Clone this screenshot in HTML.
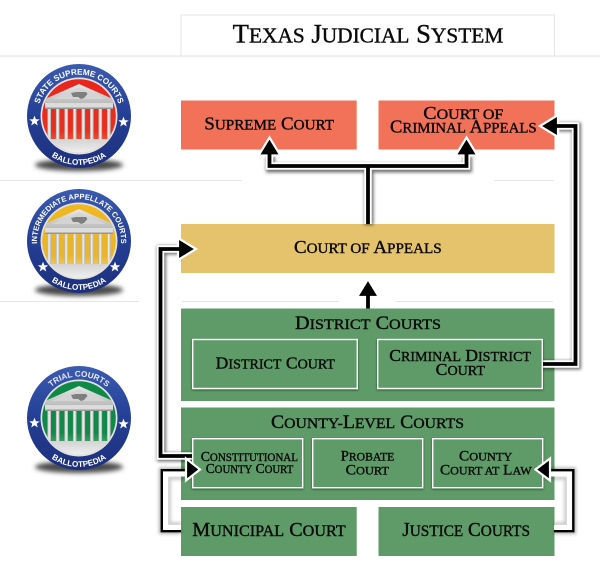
<!DOCTYPE html>
<html><head><meta charset="utf-8"><title>Texas Judicial System</title>
<style>
html,body{margin:0;padding:0;background:#fff}
svg{display:block}
.t{font-family:"Liberation Serif",serif;fill:#0a0a0a;stroke:#0a0a0a;stroke-width:.38;text-transform:uppercase}
.s{font-size:.8em}
.b{font-family:"Liberation Sans",sans-serif;font-weight:bold;fill:#fff;font-size:8.2px}
.w{fill:none;stroke:#fff;stroke-width:7.5;stroke-linejoin:miter}
.k{fill:none;stroke:#000;stroke-width:3.8;stroke-linejoin:miter}
.sh{fill:none;stroke:#000;stroke-opacity:.55;stroke-width:9}
.hw{fill:#000;stroke:#fff;stroke-width:2.2;stroke-linejoin:miter}
.thin{fill:none;stroke:#000;stroke-width:2.4;stroke-linejoin:miter}
.thw{fill:none;stroke:#fff;stroke-width:5.5}
.ths{fill:none;stroke:#000;stroke-opacity:.2;stroke-width:4}
.tho{fill:none;stroke:#000;stroke-opacity:.3;stroke-width:5}
</style></head><body>
<svg width="600" height="573" viewBox="0 0 600 573" xmlns="http://www.w3.org/2000/svg">
<defs>
<filter id="bl" x="-30%" y="-30%" width="160%" height="160%"><feGaussianBlur stdDeviation="1.6"/></filter>
<filter id="bs" x="-30%" y="-100%" width="160%" height="300%"><feGaussianBlur stdDeviation="2.4"/></filter>
<filter id="ib" x="-10%" y="-10%" width="120%" height="125%"><feDropShadow dx="0" dy="1" stdDeviation="1" flood-color="#0c2c14" flood-opacity=".65"/></filter>
<linearGradient id="ring" x1="0" y1="0" x2="0" y2="1"><stop offset="0" stop-color="#3b5bb0"/><stop offset=".5" stop-color="#243f95"/><stop offset="1" stop-color="#1d2f7c"/></linearGradient>
<linearGradient id="red" x1="0" y1="0" x2="0" y2="1"><stop offset="0" stop-color="#e9251d"/><stop offset=".7" stop-color="#e8301f"/><stop offset="1" stop-color="#f47a50"/></linearGradient>
<linearGradient id="gold" x1="0" y1="0" x2="0" y2="1"><stop offset="0" stop-color="#f0b71e"/><stop offset=".7" stop-color="#e9b52a"/><stop offset="1" stop-color="#f3dc98"/></linearGradient>
<linearGradient id="green" x1="0" y1="0" x2="0" y2="1"><stop offset="0" stop-color="#0d8a45"/><stop offset=".7" stop-color="#12894a"/><stop offset="1" stop-color="#75bd8c"/></linearGradient>
<linearGradient id="col" x1="0" y1="0" x2="1" y2="0"><stop offset="0" stop-color="#a8a8a8"/><stop offset=".45" stop-color="#f4f4f4"/><stop offset="1" stop-color="#b0b0b0"/></linearGradient>
<linearGradient id="roof" x1="0" y1="0" x2="0" y2="1"><stop offset="0" stop-color="#e8e8e8"/><stop offset="1" stop-color="#bcbcbc"/></linearGradient>
<linearGradient id="step" x1="0" y1="0" x2="0" y2="1"><stop offset="0" stop-color="#d3d3d3"/><stop offset="1" stop-color="#f2f2f2"/></linearGradient>
<path id="a1" d="M-40.9,7.2 A41.5,41.5 0 1 1 40.9,7.2"/>
<path id="a2" d="M-34.6,23.8 A42,42 0 1 1 34.6,23.8"/>
<path id="a3" d="M-41.5,0 A41.5,41.5 0 0 1 41.5,0"/>
<path id="bot" d="M-40.6,27.4 A49,49 0 0 0 40.6,27.4"/>
<path id="star" d="M0,-5.4 L1.4,-1.7 5.2,-1.6 2.2,.8 3.3,4.5 0,2.3 -3.3,4.5 -2.2,.8 -5.2,-1.6 -1.4,-1.7Z" fill="#fff"/>
<g id="temple">
<path d="M0,-32 L34,-17 34,-13 -34,-13 -34,-17Z" fill="url(#roof)"/>
<path d="M0,-28.5 L27,-17 -27,-17Z" fill="#d4d4d4"/>
<path d="M-8,-23 L-3,-24 7,-24 8.5,-22 5,-18 2,-17 -1,-19 -6,-19Z" fill="#7f7f7f"/>
<rect x="-34" y="-13" width="68" height="5" fill="#dcdcdc"/>
<rect x="-34" y="-8.5" width="68" height="1.5" fill="#979797"/>
<g fill="url(#col)">
<rect x="-31.6" y="-7" width="3.6" height="30"/><rect x="-23.1" y="-7" width="3.6" height="30"/><rect x="-14.6" y="-7" width="3.6" height="30"/><rect x="-6.1" y="-7" width="3.6" height="30"/><rect x="2.5" y="-7" width="3.6" height="30"/><rect x="11" y="-7" width="3.6" height="30"/><rect x="19.5" y="-7" width="3.6" height="30"/><rect x="28" y="-7" width="3.6" height="30"/>
</g>
</g>
<clipPath id="cc"><circle r="36.8"/></clipPath>
</defs>

<!-- lines -->
<g fill="#e6e6e6">
<rect x="0" y="55.5" width="600" height="1.2"/>
<rect x="0" y="180" width="242" height="1"/>
<rect x="494" y="180" width="60" height="1"/>
<rect x="0" y="301" width="139" height="1"/>
<rect x="182" y="301" width="157" height="1"/>
<rect x="396" y="301" width="157" height="1"/>
</g>
<path d="M181,56 V15 H554.5 V56" fill="none" stroke="#e4e4e4" stroke-width="1"/>

<!-- badges -->
<g transform="translate(79,116)">
<ellipse cx="0" cy="49" rx="44" ry="6" fill="#4a4a4a" filter="url(#bs)"/>
<circle r="52" fill="url(#ring)"/>
<circle r="38.5" fill="#e2e2e2"/><circle r="36.8" fill="url(#red)"/>
<g clip-path="url(#cc)"><use href="#temple"/><rect x="-37" y="23" width="74" height="15" fill="url(#step)"/></g>
<text class="b"><textPath href="#a1" startOffset="50%" text-anchor="middle">STATE SUPREME COURTS</textPath></text>
<text class="b"><textPath href="#bot" startOffset="50%" text-anchor="middle">BALLOTPEDIA</textPath></text>
<use href="#star" x="-44.5" y="5"/><use href="#star" x="44.5" y="6"/>
</g>
<g transform="translate(79,241)">
<ellipse cx="0" cy="49" rx="44" ry="6" fill="#4a4a4a" filter="url(#bs)"/>
<circle r="52" fill="url(#ring)"/>
<circle r="38.5" fill="#e2e2e2"/><circle r="36.8" fill="url(#gold)"/>
<g clip-path="url(#cc)"><use href="#temple"/><rect x="-37" y="23" width="74" height="15" fill="url(#step)"/></g>
<text class="b" style="font-size:7.6px"><textPath href="#a2" startOffset="50%" text-anchor="middle">INTERMEDIATE APPELLATE COURTS</textPath></text>
<text class="b"><textPath href="#bot" startOffset="50%" text-anchor="middle">BALLOTPEDIA</textPath></text>
<use href="#star" x="-36" y="26"/><use href="#star" x="36" y="26"/>
</g>
<g transform="translate(79,418)">
<ellipse cx="0" cy="49" rx="44" ry="6" fill="#4a4a4a" filter="url(#bs)"/>
<circle r="52" fill="url(#ring)"/>
<circle r="38.5" fill="#e2e2e2"/><circle r="36.8" fill="url(#green)"/>
<g clip-path="url(#cc)"><use href="#temple"/><rect x="-37" y="23" width="74" height="15" fill="url(#step)"/></g>
<text class="b" style="fill:#e8ecf6"><textPath href="#a3" startOffset="50%" text-anchor="middle">TRIAL COURTS</textPath></text>
<text class="b"><textPath href="#bot" startOffset="50%" text-anchor="middle">BALLOTPEDIA</textPath></text>
<use href="#star" x="-44.5" y="5"/><use href="#star" x="44.5" y="6"/>
</g>

<!-- boxes -->
<rect x="181" y="100.5" width="175.7" height="49" fill="#f27259"/>
<rect x="378.5" y="100.5" width="176" height="49" fill="#f27259"/>
<rect x="181" y="224" width="373.5" height="49" fill="#e5c36c"/>
<rect x="181" y="308.5" width="373.5" height="92.5" fill="#5f9b68"/>
<rect x="181" y="407.5" width="373.5" height="92.5" fill="#5f9b68"/>
<rect x="181" y="507" width="175.7" height="49" fill="#5f9b68"/>
<rect x="378.5" y="507" width="176" height="49" fill="#5f9b68"/>

<!-- thick arrows -->
<g>
<path class="sh" filter="url(#bl)" d="M269.5,155 V167 H466.5 V155 M368,167 V224" transform="translate(1,1)"/>
<path class="w" d="M269.5,155 V166 H466.5 V155 M368,166 V224"/>
<path class="hw" d="M269.5,137.5 L280.5,155.5 258.5,155.5Z"/>
<path class="hw" d="M466.5,137.5 L477.5,155.5 455.5,155.5Z"/>
<path class="k" d="M269.5,150 V166 H466.5 V150 M368,166 V224"/>

<path class="sh" filter="url(#bl)" d="M368,296 V308" transform="translate(1,0)"/>
<path class="w" d="M368,296 V308"/>
<path class="hw" d="M368,279 L379,297 357,297Z"/>
<path class="k" d="M368,292 V308.5"/>

<path class="sh" filter="url(#bl)" d="M540,364 H575.5 V126 H557" transform="translate(1,1)"/>
<path class="w" d="M540,364 H575.5 V126 H557"/>
<path class="hw" d="M540,126 L558,115 558,137Z"/>
<path class="k" d="M540,364 H575.5 V126 H552"/>

<path class="sh" filter="url(#bl)" d="M195,456 H160.5 V249 H180" transform="translate(1,1)"/>
<path class="w" d="M195,456 H160.5 V249 H180"/>
<path class="hw" d="M196,249 L178,238 178,260Z"/>
<path class="k" d="M195,456 H160.5 V249 H184"/>
</g>

<!-- inner boxes -->
<g fill="#5f9b68" stroke="#fff" stroke-width="1.4" filter="url(#ib)">
<rect x="192.7" y="339.5" width="164.6" height="49"/>
<rect x="377.7" y="339.5" width="164.6" height="49"/>
<rect x="192.7" y="438.7" width="110" height="49"/>
<rect x="312.7" y="438.7" width="110" height="49"/>
<rect x="432.7" y="438.7" width="110" height="49"/>
</g>

<!-- thin arrows -->
<g>
<path class="tho" filter="url(#bl)" d="M181,531.5 H161.5 V470 H190"/>
<path class="ths" filter="url(#bl)" d="M181,524 H169 V478 H190"/>
<path class="thw" d="M181,527.8 H165.3 V473.8 H190"/>
<path class="thin" d="M181,531.2 H161.8 V470.2 H192"/>
<path class="hw" d="M200,469.5 L186,458.5 186,480.5Z"/>
<path class="tho" filter="url(#bl)" d="M554,531.5 H573.5 V470 H545"/>
<path class="ths" filter="url(#bl)" d="M554,524 H566 V478 H545"/>
<path class="thw" d="M554,527.8 H569.7 V473.8 H545"/>
<path class="thin" d="M554,531.2 H573.3 V470.2 H544"/>
<path class="hw" d="M535.5,469.5 L550,458.5 550,480.5Z"/>
</g>

<!-- text -->
<text class="t" x="232.7" y="42.7" font-size="26" textLength="270.6" lengthAdjust="spacingAndGlyphs">T<tspan class="s">exas</tspan> J<tspan class="s">udicial</tspan> S<tspan class="s">ystem</tspan></text>
<text class="t" x="204.3" y="129.3" font-size="18" textLength="129.7" lengthAdjust="spacingAndGlyphs">S<tspan class="s">upreme</tspan> C<tspan class="s">ourt</tspan></text>
<text class="t" x="423.3" y="119" font-size="18" textLength="80" lengthAdjust="spacingAndGlyphs">C<tspan class="s">ourt of</tspan></text>
<text class="t" x="390" y="132.7" font-size="18" textLength="146.7" lengthAdjust="spacingAndGlyphs">C<tspan class="s">riminal</tspan> A<tspan class="s">ppeals</tspan></text>
<text class="t" x="294" y="253" font-size="18" textLength="147.7" lengthAdjust="spacingAndGlyphs">C<tspan class="s">ourt of</tspan> A<tspan class="s">ppeals</tspan></text>
<text class="t" x="295" y="329" font-size="19" textLength="146" lengthAdjust="spacingAndGlyphs">D<tspan class="s">istrict</tspan> C<tspan class="s">ourts</tspan></text>
<text class="t" x="215.7" y="368.3" font-size="17" textLength="119.3" lengthAdjust="spacingAndGlyphs">D<tspan class="s">istrict</tspan> C<tspan class="s">ourt</tspan></text>
<text class="t" x="389.3" y="361" font-size="17" textLength="141.7" lengthAdjust="spacingAndGlyphs">C<tspan class="s">riminal</tspan> D<tspan class="s">istrict</tspan></text>
<text class="t" x="435.7" y="375" font-size="17" textLength="49.3" lengthAdjust="spacingAndGlyphs">C<tspan class="s">ourt</tspan></text>
<text class="t" x="271" y="428" font-size="19" textLength="193" lengthAdjust="spacingAndGlyphs">C<tspan class="s">ounty-</tspan>L<tspan class="s">evel</tspan> C<tspan class="s">ourts</tspan></text>
<text class="t" x="200.7" y="461" font-size="14" textLength="97.3" lengthAdjust="spacingAndGlyphs">C<tspan class="s">onstitutional</tspan></text>
<text class="t" x="205.7" y="473" font-size="14" textLength="87.6" lengthAdjust="spacingAndGlyphs">C<tspan class="s">ounty</tspan> C<tspan class="s">ourt</tspan></text>
<text class="t" x="340.7" y="460.3" font-size="15" textLength="53.6" lengthAdjust="spacingAndGlyphs">P<tspan class="s">robate</tspan></text>
<text class="t" x="345.7" y="474.3" font-size="15" textLength="43.3" lengthAdjust="spacingAndGlyphs">C<tspan class="s">ourt</tspan></text>
<text class="t" x="459" y="460.3" font-size="15" textLength="53.3" lengthAdjust="spacingAndGlyphs">C<tspan class="s">ounty</tspan></text>
<text class="t" x="440" y="474.3" font-size="15" textLength="91.7" lengthAdjust="spacingAndGlyphs">C<tspan class="s">ourt at</tspan> L<tspan class="s">aw</tspan></text>
<text class="t" x="192.3" y="536" font-size="20" textLength="153.4" lengthAdjust="spacingAndGlyphs">M<tspan class="s">unicipal</tspan> C<tspan class="s">ourt</tspan></text>
<text class="t" x="402.3" y="536" font-size="20" textLength="127.7" lengthAdjust="spacingAndGlyphs">J<tspan class="s">ustice</tspan> C<tspan class="s">ourts</tspan></text>
</svg>
</body></html>
